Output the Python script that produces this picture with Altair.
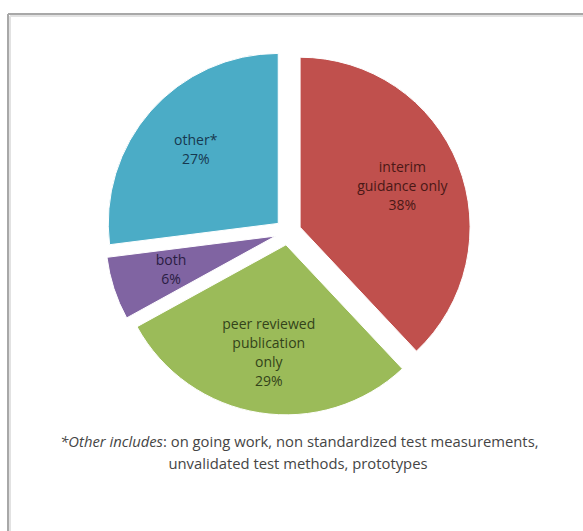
import altair as alt
import pandas as pd

categories = ["interim guidance only", "peer reviewed publication only", "both", "other*"]
labels = ["interim\nguidance only\n38%", "peer reviewed\npublication\nonly\n29%", "both\n6%", "other*\n27%"]
values = [38, 29, 6, 27]
order = [1, 2, 3, 4]

slice_colors = ["#C0504D", "#9BBB59", "#8064A2", "#4BACC6"]
text_colors = ["#4a1816", "#33431a", "#2a1d42", "#17384f"]

note_italic = "*Other includes"
note_rest = ":  on going work, non standardized test measurements,"
note_line2 = "unvalidated test methods, prototypes"

df = pd.DataFrame({"category": categories, "label": labels, "value": values, "order": order})

CX, CY, EXPLODE, R, LR, LH = 288, 232, 13, 170, 110, 19

base = alt.Chart(df).transform_joinaggregate(
    total="sum(value)"
).transform_window(
    cum="sum(value)", frame=[None, 0], sort=[alt.SortField("order")]
).transform_calculate(
    start="2*PI*(datum.cum-datum.value)/datum.total",
    end="2*PI*datum.cum/datum.total",
    nl="length(split(datum.label, '\\n'))",
).transform_calculate(
    mid="(datum.start+datum.end)/2"
).transform_calculate(
    cx=f"{CX}+{EXPLODE}*sin(datum.mid)",
    cy=f"{CY}-{EXPLODE}*cos(datum.mid)",
).transform_calculate(
    lx=f"datum.cx+{LR}*sin(datum.mid)",
    ly=f"datum.cy-{LR}*cos(datum.mid)-(datum.nl-1)*{LH}/2",
)

arcs = base.mark_arc(radius=R, stroke="white", strokeWidth=1).encode(
    theta=alt.Theta("start:Q", scale=None),
    theta2="end:Q",
    x=alt.X("cx:Q", scale=None),
    y=alt.Y("cy:Q", scale=None),
    color=alt.Color("category:N", scale=alt.Scale(domain=categories, range=slice_colors), legend=None),
)

texts = base.mark_text(lineBreak="\n", align="center", baseline="middle",
                       font="Open Sans", fontSize=14, lineHeight=LH).encode(
    x=alt.X("lx:Q", scale=None),
    y=alt.Y("ly:Q", scale=None),
    text="label:N",
    color=alt.Color("category:N", scale=alt.Scale(domain=categories, range=text_colors), legend=None),
)

frame_df = pd.DataFrame({"k": [0]})
fb = alt.Chart(frame_df)
top_line = fb.mark_rule(color="#a8a8a8", strokeWidth=2).encode(
    x=alt.value(8), x2=alt.value(583), y=alt.value(14))
top_shadow = fb.mark_rule(color="#e2e2e2", strokeWidth=2).encode(
    x=alt.value(10), x2=alt.value(583), y=alt.value(16))
left_line = fb.mark_rule(color="#a8a8a8", strokeWidth=2).encode(
    x=alt.value(8), y=alt.value(14), y2=alt.value(531))
left_shadow = fb.mark_rule(color="#e2e2e2", strokeWidth=2).encode(
    x=alt.value(10), y=alt.value(16), y2=alt.value(531))

SPLIT = 163
FS = 14.8
n1 = fb.mark_text(text=note_italic, align="right", baseline="middle", font="Open Sans",
                  fontSize=FS, fontStyle="italic", color="#454545").encode(
    x=alt.value(SPLIT), y=alt.value(443))
n2 = fb.mark_text(text=note_rest, align="left", baseline="middle", font="Open Sans",
                  fontSize=FS, color="#454545").encode(
    x=alt.value(SPLIT), y=alt.value(443))
n3 = fb.mark_text(text=note_line2, align="center", baseline="middle", font="Open Sans",
                  fontSize=FS, color="#454545").encode(
    x=alt.value(298), y=alt.value(465))

chart = alt.layer(top_shadow, left_shadow, top_line, left_line, arcs, texts, n1, n2, n3).resolve_scale(
    color="independent"
).properties(
    width=583, height=531, autosize=alt.AutoSizeParams(type="none"), padding=0,
    background="white"
).configure_view(stroke=None)

chart.save("out.html", embed_options={"renderer": "svg", "actions": False})
